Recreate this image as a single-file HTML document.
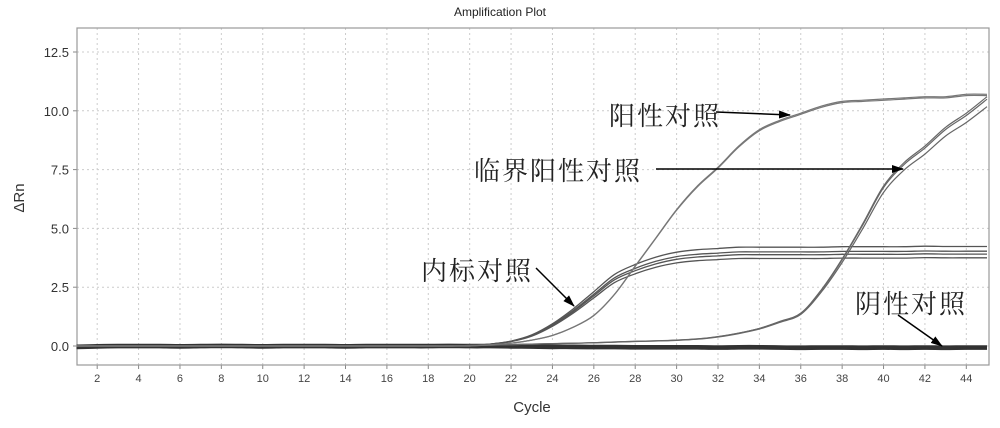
<!DOCTYPE html>
<html><head><meta charset="utf-8"><style>
body{margin:0;background:#fff;width:1000px;height:423px;overflow:hidden}
text{font-family:"Liberation Sans","Noto Sans CJK SC",sans-serif}
.cjk{font-family:"Liberation Serif","Noto Serif CJK SC",serif}
</style></head><body>
<svg id="chart" width="1000" height="423" xmlns="http://www.w3.org/2000/svg"></svg>
<script>
const cycles=[];for(let c=1;c<=45;c++)cycles.push(c);
const positive=[0,0,0,0,0,0,0,0,0,0,0,0,0,0,0,0,0,0,0,0,0.05,0.12,0.25,0.45,0.8,1.3,2.2,3.4,4.6,5.8,6.8,7.6,8.5,9.2,9.6,9.9,10.2,10.4,10.45,10.5,10.55,10.6,10.6,10.7,10.7];
const internalCtrl=[0,0,0,0,0,0,0,0,0,0,0,0,0,0,0,0,0,0,0,0.02,0.08,0.2,0.45,0.9,1.5,2.2,2.9,3.3,3.6,3.8,3.9,3.95,4.0,4.0,4.0,4.0,4.0,4.02,4.02,4.02,4.02,4.04,4.03,4.03,4.03];
const internalScale=[1.05,1.0,0.97,0.93];
const weakPositive=[0,0,0,0,0,0,0,0,0,0,0,0,0,0,0,0,0,0,0,0.02,0.04,0.06,0.08,0.1,0.12,0.14,0.17,0.2,0.22,0.25,0.3,0.4,0.55,0.75,1.05,1.4,2.4,3.7,5.2,6.8,7.8,8.5,9.3,9.9,10.6];
const weakScale=[1.0,0.99,0.96];
const negative=[-0.05,-0.03,-0.02,-0.02,-0.02,-0.03,-0.02,-0.01,-0.02,-0.03,-0.02,-0.02,-0.02,-0.03,-0.02,-0.02,-0.02,-0.02,-0.01,-0.02,-0.02,-0.03,-0.04,-0.05,-0.05,-0.06,-0.06,-0.07,-0.07,-0.07,-0.07,-0.08,-0.07,-0.07,-0.08,-0.09,-0.08,-0.08,-0.09,-0.08,-0.09,-0.08,-0.09,-0.08,-0.08];
const negOffsets=[0,0.04,-0.05,0.08];
const xTicks=[2,4,6,8,10,12,14,16,18,20,22,24,26,28,30,32,34,36,38,40,42,44];
const yTicks=[0,2.5,5,7.5,10,12.5];
const yTickLabels=["0.0","2.5","5.0","7.5","10.0","12.5"];

const svg=document.getElementById('chart');const NS='http://www.w3.org/2000/svg';
const L=77,R=989,T=28,B=365;
const X=c=>76.5+(c-1)*(987-76.5)/44;
const Y=v=>346-v*23.52;
function mk(tag,attrs,parent){const e=document.createElementNS(NS,tag);for(const k in attrs)e.setAttribute(k,attrs[k]);(parent||svg).appendChild(e);return e;}
const defs=mk('defs',{});
const mkr=mk('marker',{id:'ah',markerWidth:12,markerHeight:8,refX:11,refY:4,orient:'auto',markerUnits:'userSpaceOnUse'},defs);
mk('path',{d:'M0,0 L12,4 L0,8 z',fill:'#000'},mkr);
let t=mk('text',{x:500,y:16,'text-anchor':'middle','font-size':12,fill:'#222'});t.textContent='Amplification Plot';

const grid=mk('g',{});
xTicks.forEach(c=>{mk('line',{x1:X(c),x2:X(c),y1:T,y2:B,stroke:'#ccc','stroke-dasharray':'2,3'},grid);
 mk('line',{x1:X(c),x2:X(c),y1:B,y2:B+4,stroke:'#888'});
 const tx=mk('text',{x:X(c),y:B+17,'text-anchor':'middle','font-size':11,fill:'#444'});tx.textContent=c;
 });
yTicks.forEach((v,i)=>{mk('line',{x1:L,x2:R,y1:Y(v),y2:Y(v),stroke:'#ccc','stroke-dasharray':'2,3'},grid);
 mk('line',{x1:L-4,x2:L,y1:Y(v),y2:Y(v),stroke:'#888'});
 const tx=mk('text',{x:L-8,y:Y(v)+5,'text-anchor':'end','font-size':13,fill:'#333'});tx.textContent=yTickLabels[i];
 });
const fr=mk('rect',{x:L,y:T,width:R-L,height:B-T,fill:'none',stroke:'#999','stroke-width':1.2});

t=mk('text',{x:532,y:412,'text-anchor':'middle','font-size':15,fill:'#333'});t.textContent='Cycle';

t=mk('text',{x:0,y:0,'text-anchor':'middle','font-size':15,fill:'#333',transform:'translate(24,198) rotate(-90)'});t.textContent='ΔRn';

function line(vals,name,w,col){
 const P=vals.map((v,i)=>[X(cycles[i]),Y(v)]);
 let d='M'+P[0][0].toFixed(1)+','+P[0][1].toFixed(1);
 for(let i=0;i<P.length-1;i++){const p0=P[Math.max(0,i-1)],p1=P[i],p2=P[i+1],p3=P[Math.min(P.length-1,i+2)];
  const c1=[p1[0]+(p2[0]-p0[0])/6,p1[1]+(p2[1]-p0[1])/6],c2=[p2[0]-(p3[0]-p1[0])/6,p2[1]-(p3[1]-p1[1])/6];
  d+=' C'+c1.map(n=>n.toFixed(1))+' '+c2.map(n=>n.toFixed(1))+' '+p2.map(n=>n.toFixed(1));}
 const p=mk('path',{d:d,fill:'none',stroke:col||'#555','stroke-width':w||1.3});
 }
negOffsets.forEach(o=>line(negative.map(v=>v+o),'negative-control-line',1.6,'#333'));
internalScale.forEach(s=>line(internalCtrl.map(v=>v*s),'internal-control-line',1.3,'#555'));
weakScale.forEach(s=>line(weakPositive.map(v=>v*s),'weak-positive-line',1.2,'#666'));
[1,0.995].forEach(s=>line(positive.map(v=>v*s),'positive-control-line',1.2,'#777'));
function ann(txt,x,y,name,ax1,ay1,ax2,ay2){const g=mk('g',{});
 const tx=mk('text',{x:x,y:y,'font-size':26,fill:'#222',class:'cjk','letter-spacing':2},g);tx.textContent=txt;
 mk('line',{x1:ax1,y1:ay1,x2:ax2,y2:ay2,stroke:'#000','stroke-width':1.5,'marker-end':'url(#ah)'},g);}
ann('阳性对照',609,125,'positive-annotation',716,112,790,115);
ann('临界阳性对照',474,180,'weak-positive-annotation',656,169,903,169);
ann('内标对照',421,280,'internal-annotation',536,268,574,306);
ann('阴性对照',855,313,'negative-annotation',898,315,942,346);
</script></body></html>
